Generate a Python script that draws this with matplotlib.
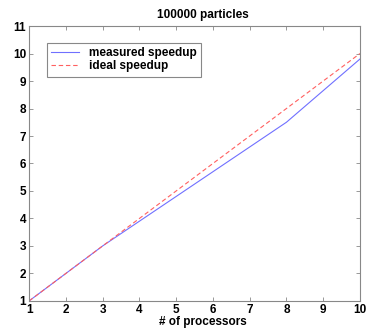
import matplotlib
matplotlib.use('Agg')
import matplotlib.pyplot as plt

# data
procs = [1, 2, 3, 4, 5, 6, 8, 10]
measured = [1, 2, 3, 3.9, 4.8, 5.7, 7.5, 9.8]
ideal_x = [1, 10]
ideal_y = [1, 10]

plt.rcParams['font.family'] = ['Liberation Sans', 'DejaVu Sans']
plt.rcParams['font.weight'] = 'bold'
fs = 8.5

fig = plt.figure(figsize=(3.73, 3.34), dpi=100)
ax = fig.add_axes([0.078, 0.099, 0.887, 0.823])

ax.plot(procs, measured, color='#7070ff', lw=0.8, label='measured speedup')
ax.plot(ideal_x, ideal_y, color='#ff6060', lw=0.8, ls=(0, (4, 2.5)), label='ideal speedup')

ax.set_xlim(1, 10)
ax.set_ylim(1, 11)
ax.set_xticks(range(1, 11))
ax.set_yticks(range(1, 12))
ax.tick_params(direction='in', top=True, right=True, length=3, width=0.6,
               color='#888888', labelsize=fs, pad=2)
for s in ax.spines.values():
    s.set_color('#888888')
    s.set_linewidth(0.8)

ax.set_title('100000 particles', fontsize=fs, fontweight='bold', x=0.524, pad=6)
ax.set_xlabel('# of processors', fontsize=fs, fontweight='bold', x=0.524, labelpad=0)

leg = ax.legend(loc='upper left', bbox_to_anchor=(0.055, 0.94), fontsize=fs,
                fancybox=False, framealpha=1, edgecolor='#888888',
                handlelength=2.3, borderpad=0.35, labelspacing=0.15,
                handletextpad=0.9, borderaxespad=0)
leg.get_frame().set_linewidth(0.8)

fig.savefig('out.png', dpi=100)
